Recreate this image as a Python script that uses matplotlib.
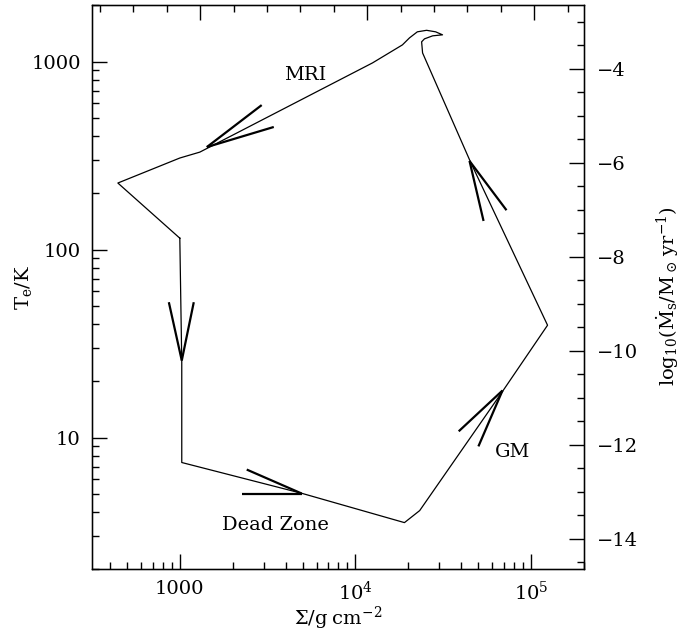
import numpy as np
import matplotlib.pyplot as plt
from matplotlib.ticker import (MultipleLocator, FixedLocator, FixedFormatter,
                               LogLocator, NullFormatter)

plt.rcParams['font.family'] = 'DejaVu Serif'
plt.rcParams['mathtext.fontset'] = 'dejavuserif'

# cycle path in (Sigma [g cm^-2], T_e [K])
sigma = [1000, 1026, 1026, 5000, 19000, 23200, 68700, 124000, 45200, 24100,
         23800, 24700, 27500, 31300, 28600, 25400, 22500, 20300, 18500, 12500,
         1300, 1000, 444, 1000]
temp = [115, 25.1, 7.37, 5.04, 3.53, 4.09, 17.6, 39.6, 292, 1112,
        1274, 1321, 1371, 1388, 1440, 1467, 1440, 1337, 1227, 984,
        330, 307, 226, 115]

# arrow heads: tip and two fin ends
arrow_tip_sigma = [1425, 1026, 4943, 68700, 44600]
arrow_tip_temp = [351, 25.7, 5.04, 17.8, 296]
fin1_sigma = [2925, 866, 2404, 38700, 53600]
fin1_temp = [587, 52.5, 6.76, 10.8, 142]
fin2_sigma = [3427, 1201, 2254, 50100, 72400]
fin2_temp = [449, 52.5, 5.04, 8.98, 162]

labels = ['MRI', 'Dead Zone', 'GM']
label_sigma = [5140, 3515, 78300]
label_temp = [849, 3.44, 8.43]

# log10(Mdot) = 4 log10(T) + offset
mdot_offset = -15.844

fig = plt.figure(figsize=(6.9, 6.33), dpi=100)
ax = fig.add_axes([0.1333, 0.1011, 0.7131, 0.8910])
ax.set_xscale('log')
ax.set_yscale('log')
xlim = (10 ** 2.5, 2.0e5)
ylim = (2.0, 2000.0)
ax.set_xlim(*xlim)
ax.set_ylim(*ylim)

ax.plot(sigma, temp, color='black', lw=0.9)
for i in range(len(arrow_tip_sigma)):
    for fs, ft in ((fin1_sigma[i], fin1_temp[i]), (fin2_sigma[i], fin2_temp[i])):
        ax.plot([arrow_tip_sigma[i], fs], [arrow_tip_temp[i], ft],
                color='black', lw=1.6, solid_capstyle='butt')

for txt, xs, yt in zip(labels, label_sigma, label_temp):
    ax.text(xs, yt, txt, fontsize=14, ha='center', va='center')

for sp in ax.spines.values():
    sp.set_linewidth(1.0)

# bottom / left axis
ax.xaxis.set_major_locator(FixedLocator([1000, 1e4, 1e5]))
ax.xaxis.set_major_formatter(FixedFormatter(['1000', r'$10^4$', r'$10^5$']))
ax.xaxis.set_minor_locator(LogLocator(base=10, subs=np.arange(2, 10)))
ax.xaxis.set_minor_formatter(NullFormatter())
ax.yaxis.set_major_locator(FixedLocator([10, 100, 1000]))
ax.yaxis.set_major_formatter(FixedFormatter(['10', '100', '1000']))
ax.yaxis.set_minor_locator(LogLocator(base=10, subs=np.arange(2, 10)))
ax.yaxis.set_minor_formatter(NullFormatter())
ax.tick_params(which='both', direction='in', top=False, right=False, width=1)
ax.tick_params(which='major', length=10.5, pad=8, labelsize=14)
ax.tick_params(which='minor', length=5.3)

ax.set_xlabel(r'$\Sigma/\mathrm{g\;cm^{-2}}$', fontsize=14)
ax.xaxis.set_label_coords(0.5, -0.063)
ax.set_ylabel(r'$\mathrm{T_e/K}$', fontsize=14)
ax.yaxis.set_label_coords(-0.118, 0.5)

# right axis: accretion rate
ax2 = ax.twinx()
ax2.set_ylim(4 * np.log10(ylim[0]) + mdot_offset, 4 * np.log10(ylim[1]) + mdot_offset)
ax2.yaxis.set_major_locator(MultipleLocator(2))
ax2.yaxis.set_minor_locator(MultipleLocator(0.5))
ax2.tick_params(which='both', direction='in', width=1)
ax2.tick_params(which='major', length=10.5, pad=9, labelsize=14)
ax2.tick_params(which='minor', length=5.3)
ax2.set_ylabel(r'$\mathrm{log_{10}(\dot{M}_s/M_\odot\,yr^{-1})}$', fontsize=14, rotation=90)
ax2.yaxis.set_label_coords(1.143, 0.483)

# top axis: unlabeled evenly spaced ticks
ax3 = ax.twiny()
ax3.set_xlim(-0.648, 2.298)
ax3.xaxis.set_major_locator(MultipleLocator(1))
ax3.xaxis.set_minor_locator(MultipleLocator(0.2))
ax3.tick_params(which='both', direction='in', labeltop=False, width=1)
ax3.tick_params(which='major', length=10.5)
ax3.tick_params(which='minor', length=5.3)

fig.savefig('out.png', dpi=100)
